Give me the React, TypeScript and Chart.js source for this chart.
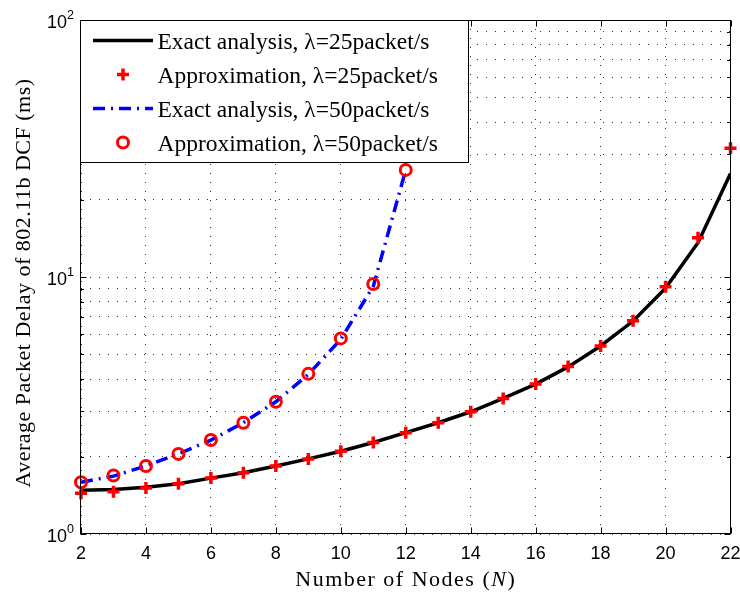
import React, { useEffect, useRef } from 'react';
import { Chart, registerables } from 'chart.js';

Chart.register(...registerables);

// ---------- data ----------
const nodes25 = [2, 3, 4, 5, 6, 7, 8, 9, 10, 11, 12, 13, 14, 15, 16, 17, 18, 19, 20, 21, 22];
const exact25 = [1.48, 1.49, 1.52, 1.57, 1.65, 1.73, 1.84, 1.96, 2.10, 2.27, 2.48, 2.71, 2.99, 3.37, 3.83, 4.47, 5.39, 6.74, 9.05, 13.6, 25.3];
const approx25 = [1.44, 1.46, 1.51, 1.57, 1.65, 1.73, 1.84, 1.96, 2.10, 2.27, 2.48, 2.71, 2.99, 3.37, 3.83, 4.48, 5.39, 6.76, 9.17, 14.2, 31.7];

const nodes50 = [2, 3, 4, 5, 6, 7, 8, 9, 10, 11, 12];
const exact50 = [1.59, 1.68, 1.84, 2.05, 2.32, 2.71, 3.27, 4.18, 5.72, 9.2, 26.1];
const approx50 = [1.59, 1.69, 1.84, 2.05, 2.32, 2.71, 3.27, 4.20, 5.77, 9.39, 26.1];

const xTickValues = [2, 4, 6, 8, 10, 12, 14, 16, 18, 20, 22];
const yGridValues = [1, 2, 3, 4, 5, 6, 7, 8, 9, 10, 20, 30, 40, 50, 60, 70, 80, 90, 100];
const yDecades = [1, 10, 100];
const yExponents = ['0', '1', '2'];

const legendLabels = [
  'Exact analysis, λ=25packet/s',
  'Approximation, λ=25packet/s',
  'Exact analysis, λ=50packet/s',
  'Approximation, λ=50packet/s',
];
const xTitleParts = ['Number of Nodes (', 'N', ')'];
const yTitle = 'Average Packet Delay of 802.11b DCF (ms)';

const RED = '#ff0000';
const BLUE = '#0000ff';
const DASHDOT = [12, 6, 2, 6];
const SERIF = '"Liberation Serif", "Times New Roman", serif';
const SANS = '"Liberation Sans", Arial, sans-serif';

const toPoints = (xs: number[], ys: number[]) => xs.map((x, i) => ({ x, y: ys[i] }));

const decorPlugin = {
  id: 'decor',
  afterDraw(chart: any) {
    const { ctx, chartArea: ca, scales } = chart;
    const xs = scales.x;
    const ys = scales.y;
    ctx.save();

    // axes box
    ctx.strokeStyle = '#000';
    ctx.lineWidth = 1;
    ctx.setLineDash([]);
    const L = Math.round(ca.left) - 0.5;
    const R = Math.round(ca.right) - 0.5;
    const T = Math.round(ca.top) + 0.5;
    const B = Math.round(ca.bottom) - 0.5;
    ctx.strokeRect(L, T, R - L, B - T);

    // inward tick marks
    ctx.beginPath();
    xTickValues.forEach((v) => {
      const px = Math.round(xs.getPixelForValue(v)) + 0.5;
      ctx.moveTo(px, B); ctx.lineTo(px, B - 6);
      ctx.moveTo(px, T); ctx.lineTo(px, T + 6);
    });
    yGridValues.forEach((v) => {
      const py = Math.round(ys.getPixelForValue(v)) + 0.5;
      const len = yDecades.includes(v) ? 6 : 3.5;
      ctx.moveTo(L, py); ctx.lineTo(L + len, py);
      ctx.moveTo(R, py); ctx.lineTo(R - len, py);
    });
    ctx.stroke();

    // y tick labels with exponents
    ctx.fillStyle = '#000';
    ctx.textBaseline = 'alphabetic';
    ctx.textAlign = 'right';
    yDecades.forEach((v, i) => {
      const py = ys.getPixelForValue(v);
      ctx.font = `12.5px ${SANS}`;
      const supW = ctx.measureText(yExponents[i]).width;
      ctx.fillText(yExponents[i], ca.left - 7, py - 1);
      ctx.font = `18px ${SANS}`;
      ctx.fillText('10', ca.left - 7 - supW, py + 8);
    });

    // legend
    const lx = Math.round(ca.left) - 0.5;
    const ly = Math.round(ca.top) + 0.5;
    const lw = 388;
    const lh = 142;
    ctx.fillStyle = '#fff';
    ctx.fillRect(lx, ly, lw, lh);
    ctx.strokeStyle = '#000';
    ctx.lineWidth = 1;
    ctx.strokeRect(lx, ly, lw, lh);
    legendLabels.forEach((label, i) => {
      const ry = ly + 20 + 34 * i;
      const sx0 = lx + 12.5;
      const sx1 = lx + 72.5;
      const mx = lx + 42.5;
      if (i === 0 || i === 2) {
        ctx.save();
        ctx.strokeStyle = i === 0 ? '#000' : BLUE;
        ctx.lineWidth = 3.5;
        ctx.setLineDash(i === 0 ? [] : DASHDOT);
        ctx.beginPath();
        ctx.moveTo(sx0, ry); ctx.lineTo(sx1, ry);
        ctx.stroke();
        ctx.restore();
      } else if (i === 1) {
        ctx.save();
        ctx.strokeStyle = RED;
        ctx.lineWidth = 3.5;
        ctx.beginPath();
        ctx.moveTo(mx - 6, ry); ctx.lineTo(mx + 6, ry);
        ctx.moveTo(mx, ry - 6); ctx.lineTo(mx, ry + 6);
        ctx.stroke();
        ctx.restore();
      } else {
        ctx.save();
        ctx.strokeStyle = RED;
        ctx.lineWidth = 3;
        ctx.beginPath();
        ctx.arc(mx, ry, 5.5, 0, Math.PI * 2);
        ctx.stroke();
        ctx.restore();
      }
      ctx.fillStyle = '#000';
      ctx.textAlign = 'left';
      ctx.font = `23.5px ${SERIF}`;
      ctx.fillText(label, lx + 77, ry + 8.5);
    });

    // axis titles
    ctx.fillStyle = '#000';
    ctx.textAlign = 'left';
    (ctx as any).letterSpacing = '1.5px';
    const fonts = [`22px ${SERIF}`, `italic 22px ${SERIF}`, `22px ${SERIF}`];
    const widths = xTitleParts.map((p, i) => { ctx.font = fonts[i]; return ctx.measureText(p).width; });
    const total = widths.reduce((a, b) => a + b, 0);
    let cx = (ca.left + ca.right) / 2 - total / 2;
    xTitleParts.forEach((p, i) => {
      ctx.font = fonts[i];
      ctx.fillText(p, cx, ca.bottom + 52);
      cx += widths[i];
    });

    ctx.save();
    (ctx as any).letterSpacing = '0.5px';
    ctx.translate(30, (ca.top + ca.bottom) / 2 + 6);
    ctx.rotate(-Math.PI / 2);
    ctx.font = `22px ${SERIF}`;
    ctx.textAlign = 'center';
    ctx.fillText(yTitle, 0, 0);
    ctx.restore();
    (ctx as any).letterSpacing = '0px';

    ctx.restore();
  },
};

export default function App() {
  const canvasRef = useRef<HTMLCanvasElement | null>(null);

  useEffect(() => {
    const canvas = canvasRef.current;
    if (!canvas) return;
    const chart = new Chart(canvas, {
      type: 'line',
      data: {
        datasets: [
          {
            label: legendLabels[0],
            data: toPoints(nodes25, exact25),
            borderColor: '#000',
            borderWidth: 3.5,
            pointRadius: 0,
            tension: 0,
            fill: false,
            order: 2,
          },
          {
            label: legendLabels[1],
            data: toPoints(nodes25, approx25),
            showLine: false,
            pointStyle: 'cross',
            pointRadius: 6,
            pointBorderWidth: 3.5,
            pointBorderColor: RED,
            pointBackgroundColor: RED,
            borderColor: RED,
            clip: false,
            order: 0,
          },
          {
            label: legendLabels[2],
            data: toPoints(nodes50, exact50),
            borderColor: BLUE,
            borderWidth: 3.5,
            borderDash: DASHDOT,
            pointRadius: 0,
            tension: 0,
            fill: false,
            order: 1,
          },
          {
            label: legendLabels[3],
            data: toPoints(nodes50, approx50),
            showLine: false,
            pointStyle: 'circle',
            pointRadius: 5.5,
            pointBorderWidth: 3,
            pointBorderColor: RED,
            pointBackgroundColor: 'rgba(0,0,0,0)',
            borderColor: RED,
            clip: false,
            order: 0,
          },
        ],
      },
      options: {
        responsive: false,
        animation: false,
        events: [],
        layout: { padding: { top: 20, right: 9, left: 0, bottom: 0 } },
        plugins: { legend: { display: false }, tooltip: { enabled: false } },
        scales: {
          x: {
            type: 'linear',
            min: 2,
            max: 22,
            afterBuildTicks: (s: any) => { s.ticks = xTickValues.map((v) => ({ value: v })); },
            ticks: {
              color: '#000',
              font: { family: SANS, size: 18 },
              padding: 9,
              maxRotation: 0,
              autoSkip: false,
            },
            grid: { color: 'rgba(0,0,0,0.8)', lineWidth: 1, drawTicks: false },
            border: { display: false, dash: [1, 8] },
            afterFit: (s: any) => { s.height = 63; s.paddingLeft = 0; s.paddingRight = 0; },
          },
          y: {
            type: 'logarithmic',
            min: 1,
            max: 100,
            afterBuildTicks: (s: any) => { s.ticks = yGridValues.map((v) => ({ value: v })); },
            ticks: { display: false },
            grid: { color: 'rgba(0,0,0,0.8)', lineWidth: 1, drawTicks: false },
            border: { display: false, dash: [1, 8] },
            afterFit: (s: any) => { s.width = 81; s.paddingTop = 0; s.paddingBottom = 0; },
          },
        },
      } as any,
      plugins: [decorPlugin],
    });
    return () => chart.destroy();
  }, []);

  return (
    <div style={{ position: 'absolute', left: 0, top: 0, width: 740, height: 597, background: '#fff' }}>
      <canvas ref={canvasRef} width={740} height={597} style={{ display: 'block' }} />
    </div>
  );
}
